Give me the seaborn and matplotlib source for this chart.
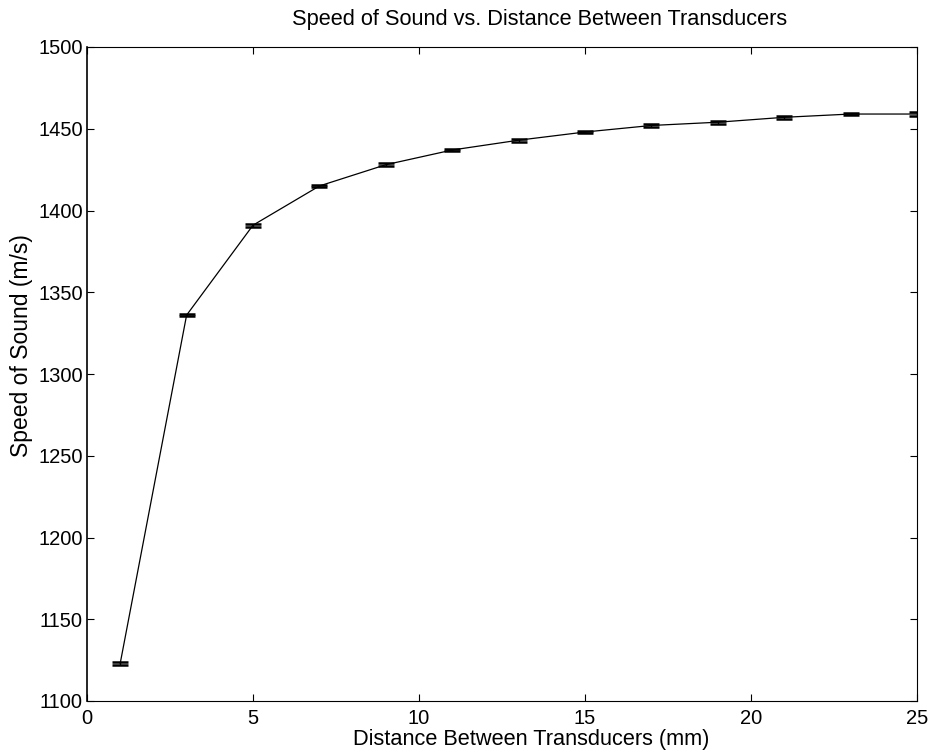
import matplotlib
matplotlib.use("Agg")
import matplotlib.pyplot as plt
import seaborn as sns
import pandas as pd

# Transducer spacing (mm) and measured speed of sound (m/s)
distance_mm = [1, 3, 5, 7, 9, 11, 13, 15, 17, 19, 21, 23, 25]
speed_ms = [1123, 1336, 1391, 1415, 1428, 1437, 1443, 1448, 1452, 1454, 1457, 1459, 1459]
speed_err = [0.8, 0.8, 0.8, 0.8, 0.8, 0.8, 0.8, 0.8, 0.8, 0.8, 0.8, 0.8, 1.2]

x_ticks = [0, 5, 10, 15, 20, 25]
y_ticks = [1100, 1150, 1200, 1250, 1300, 1350, 1400, 1450, 1500]

sns.set_theme(style="white")
plt.rcParams["font.family"] = ["Liberation Sans", "DejaVu Sans"]

df = pd.DataFrame({"distance": distance_mm, "speed": speed_ms, "err": speed_err})

fig = plt.figure(figsize=(9.32, 7.5), dpi=100)
ax = fig.add_axes([87 / 932, 1 - 701 / 750, (917 - 87) / 932, (701 - 47) / 750])

sns.lineplot(data=df, x="distance", y="speed", ax=ax, color="black",
             linewidth=0.9, estimator=None, legend=False)
ax.errorbar(df["distance"], df["speed"], yerr=df["err"], fmt="none",
            ecolor="black", elinewidth=1.0, capsize=6, capthick=1.8)

ax.set_xlim(0, 25)
ax.set_ylim(1100, 1500)
ax.set_xticks(x_ticks)
ax.set_yticks(y_ticks)
ax.set_xticklabels([str(t) for t in x_ticks])
ax.set_yticklabels([str(t) for t in y_ticks])

ax.tick_params(direction="in", length=5, width=0.8, color="black",
               labelsize=14.5, labelcolor="black", top=True, right=True,
               bottom=True, left=True, pad=3)
ax.tick_params(axis="x", pad=6)
for side, spine in ax.spines.items():
    spine.set_visible(True)
    spine.set_color("black")
    spine.set_linewidth(0.8 if side != "left" else 1.2)

ax.set_xlabel("")
ax.set_ylabel("")
ax.grid(False)

fig.text(540 / 932, 1 - 20 / 750, "Speed of Sound vs. Distance Between Transducers",
         ha="center", va="center", fontsize=15.7, color="black")
fig.text(531 / 932, 1 - 740 / 750, "Distance Between Transducers (mm)",
         ha="center", va="center", fontsize=15.7, color="black")
fig.text(22 / 932, 1 - 346 / 750, "Speed of Sound (m/s)", rotation=90,
         ha="center", va="center", fontsize=16.5, color="black")

fig.savefig("out.png", dpi=100, facecolor="white")
